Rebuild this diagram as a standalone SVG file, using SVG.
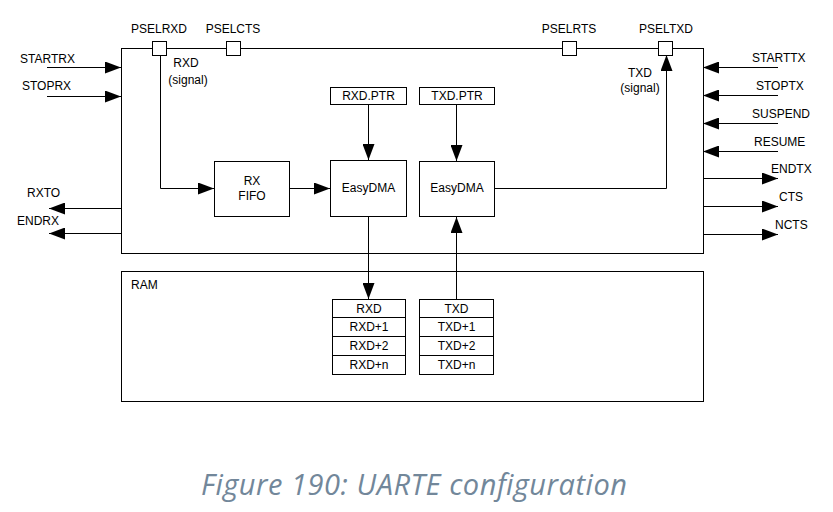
<svg xmlns="http://www.w3.org/2000/svg" width="833" height="512" viewBox="0 0 833 512">
<defs>
<marker id="ah" markerUnits="userSpaceOnUse" markerWidth="16" markerHeight="12" refX="16" refY="6" orient="auto">
<path d="M0,0 L16,6 L0,12 Z" fill="#000"/>
</marker>
<style>
.t{font-family:"Liberation Sans",Arial,sans-serif;font-size:12px;fill:#000}
.m{text-anchor:middle}
.b{fill:#fff;stroke:#000;stroke-width:1}
.c{fill:none;stroke:#000;stroke-width:1}
.cap{font-family:"Open Sans",sans-serif;font-style:italic;font-size:29px;fill:#72879a}
</style>
</defs>
<rect width="833" height="512" fill="#fff"/>
<g id="uarte">
<rect class="b" x="121.5" y="48.5" width="582" height="205"/>
</g>
<g id="ram">
<rect class="b" x="121.5" y="271.5" width="582" height="130"/>
<text class="t" x="131" y="289">RAM</text>
</g>
<g id="connectors">
<line class="c" x1="47" y1="67.5" x2="121" y2="67.5" marker-end="url(#ah)"/>
<line class="c" x1="47" y1="96.5" x2="121" y2="96.5" marker-end="url(#ah)"/>
<line class="c" x1="121" y1="208.5" x2="49" y2="208.5" marker-end="url(#ah)"/>
<line class="c" x1="121" y1="233.5" x2="49" y2="233.5" marker-end="url(#ah)"/>
<line class="c" x1="778" y1="67.5" x2="703" y2="67.5" marker-end="url(#ah)"/>
<line class="c" x1="778" y1="95.5" x2="703" y2="95.5" marker-end="url(#ah)"/>
<line class="c" x1="778" y1="123.5" x2="703" y2="123.5" marker-end="url(#ah)"/>
<line class="c" x1="778" y1="151.5" x2="703" y2="151.5" marker-end="url(#ah)"/>
<line class="c" x1="703" y1="178.5" x2="778" y2="178.5" marker-end="url(#ah)"/>
<line class="c" x1="703" y1="206.5" x2="778" y2="206.5" marker-end="url(#ah)"/>
<line class="c" x1="703" y1="234.5" x2="778" y2="234.5" marker-end="url(#ah)"/>
<polyline class="c" points="160.5,55 160.5,188.5 214,188.5" marker-end="url(#ah)"/>
<line class="c" x1="289" y1="188.5" x2="330" y2="188.5" marker-end="url(#ah)"/>
<line class="c" x1="368.5" y1="104" x2="368.5" y2="160" marker-end="url(#ah)"/>
<line class="c" x1="456.5" y1="104" x2="456.5" y2="161" marker-end="url(#ah)"/>
<polyline class="c" points="494,188.5 666.5,188.5 666.5,55" marker-end="url(#ah)"/>
<line class="c" x1="368.5" y1="217" x2="368.5" y2="299" marker-end="url(#ah)"/>
<line class="c" x1="456.5" y1="299" x2="456.5" y2="217" marker-end="url(#ah)"/>
</g>
<g id="pins">
<rect class="b" x="152.5" y="41.5" width="14" height="14"/>
<rect class="b" x="226.5" y="41.5" width="14" height="14"/>
<rect class="b" x="562.5" y="41.5" width="14" height="14"/>
<rect class="b" x="658.5" y="41.5" width="14" height="14"/>
<text class="t m" x="159" y="33">PSELRXD</text>
<text class="t m" x="233" y="33">PSELCTS</text>
<text class="t m" x="569" y="33">PSELRTS</text>
<text class="t m" x="666" y="33">PSELTXD</text>
<text class="t m" x="186" y="67">RXD</text>
<text class="t m" x="188" y="84">(signal)</text>
<text class="t m" x="640" y="77">TXD</text>
<text class="t m" x="640" y="92">(signal)</text>
</g>
<g id="events">
<text class="t" x="20" y="63">STARTRX</text>
<text class="t" x="22" y="90">STOPRX</text>
<text class="t" x="27" y="197">RXTO</text>
<text class="t" x="17" y="225">ENDRX</text>
<text class="t" x="752" y="62">STARTTX</text>
<text class="t" x="756" y="90">STOPTX</text>
<text class="t" x="752" y="118">SUSPEND</text>
<text class="t" x="754" y="146">RESUME</text>
<text class="t" x="771" y="173">ENDTX</text>
<text class="t" x="779" y="201">CTS</text>
<text class="t" x="775" y="229">NCTS</text>
</g>
<g id="rxfifo">
<rect class="b" x="214.5" y="161.5" width="75" height="55"/>
<text class="t m" x="252" y="185">RX</text>
<text class="t m" x="252" y="200">FIFO</text>
</g>
<g id="rxdptr">
<rect class="b" x="330.5" y="87.5" width="76" height="17"/>
<text class="t m" x="368.5" y="100">RXD.PTR</text>
</g>
<g id="txdptr">
<rect class="b" x="419.5" y="87.5" width="75" height="17"/>
<text class="t m" x="457" y="100">TXD.PTR</text>
</g>
<g id="easydma-rx">
<rect class="b" x="330.5" y="160.5" width="76" height="56"/>
<text class="t m" x="368.5" y="192">EasyDMA</text>
</g>
<g id="easydma-tx">
<rect class="b" x="419.5" y="161.5" width="75" height="55"/>
<text class="t m" x="457" y="192">EasyDMA</text>
</g>
<g id="rxd-mem">
<rect class="b" x="332.5" y="299.5" width="73" height="75"/>
<line class="c" x1="332.5" y1="317.5" x2="405.5" y2="317.5"/>
<line class="c" x1="332.5" y1="336.5" x2="405.5" y2="336.5"/>
<line class="c" x1="332.5" y1="355.5" x2="405.5" y2="355.5"/>
<text class="t m" x="369" y="313">RXD</text>
<text class="t m" x="369" y="331">RXD+1</text>
<text class="t m" x="369" y="350">RXD+2</text>
<text class="t m" x="369" y="369">RXD+n</text>
</g>
<g id="txd-mem">
<rect class="b" x="419.5" y="299.5" width="74" height="75"/>
<line class="c" x1="419.5" y1="317.5" x2="493.5" y2="317.5"/>
<line class="c" x1="419.5" y1="336.5" x2="493.5" y2="336.5"/>
<line class="c" x1="419.5" y1="355.5" x2="493.5" y2="355.5"/>
<text class="t m" x="456.5" y="313">TXD</text>
<text class="t m" x="456.5" y="331">TXD+1</text>
<text class="t m" x="456.5" y="350">TXD+2</text>
<text class="t m" x="456.5" y="369">TXD+n</text>
</g>
<text class="cap" x="201" y="495" textLength="426" lengthAdjust="spacing">Figure 190: UARTE configuration</text>
</svg>
